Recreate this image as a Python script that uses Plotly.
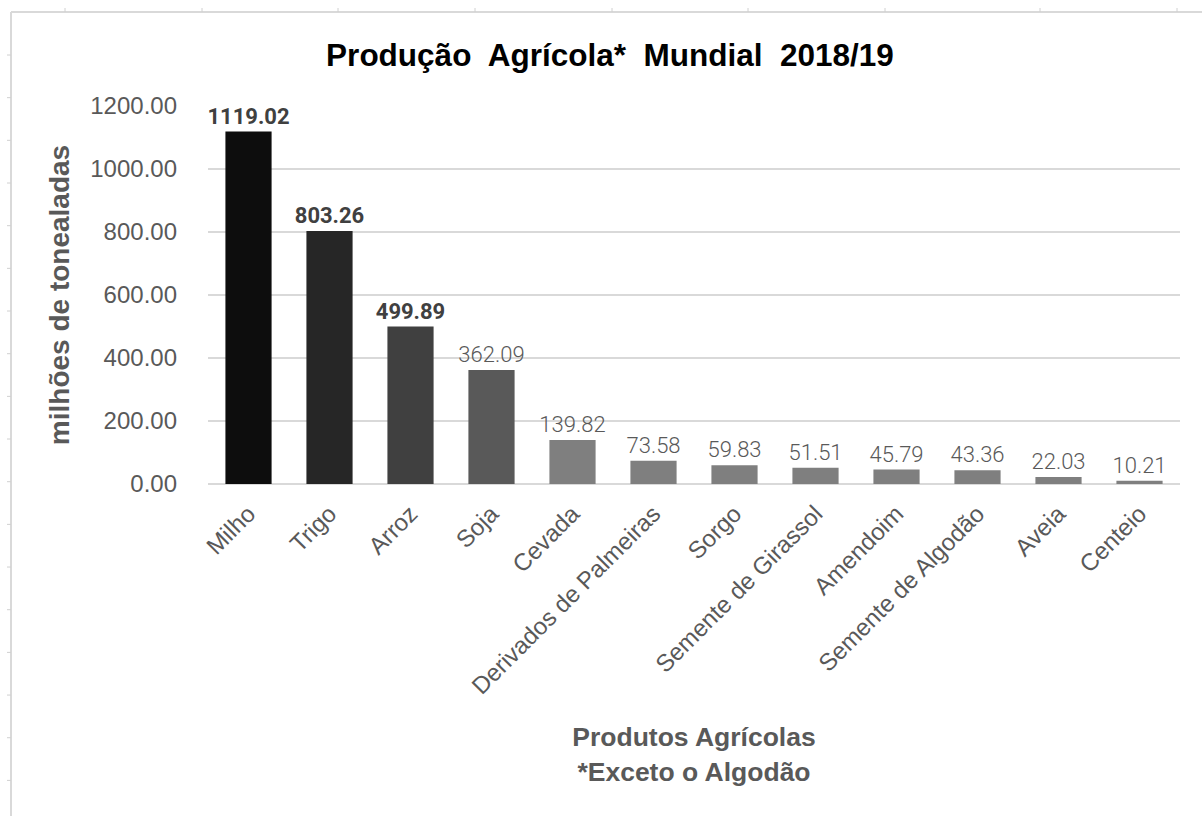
import plotly.graph_objects as go

# Produção agrícola mundial 2018/19 (milhões de toneladas)
produtos = ["Milho", "Trigo", "Arroz", "Soja", "Cevada", "Derivados de Palmeiras",
            "Sorgo", "Semente de Girassol", "Amendoim", "Semente de Algodão",
            "Aveia", "Centeio"]
producao = [1119.02, 803.26, 499.89, 362.09, 139.82, 73.58, 59.83, 51.51,
            45.79, 43.36, 22.03, 10.21]
cores = ["#0d0d0d", "#262626", "#404040", "#595959"] + ["#7f7f7f"] * 8
destaque = [True, True, True] + [False] * 9

y_ticks = [0, 200, 400, 600, 800, 1000, 1200]

W, H = 1202, 816
ML, MR, MT, MB = 208, 22, 106, 332
PW, PH = W - ML - MR, H - MT - MB


def px(x):
    return (x - ML) / PW


def py(y):
    return (H - MB - y) / PH


fig = go.Figure(go.Bar(
    x=produtos,
    y=producao,
    marker=dict(color=cores, line=dict(width=0)),
    text=[f"{v:.2f}" for v in producao],
    textposition="outside",
    constraintext="none",
    cliponaxis=False,
    textfont=dict(
        family="Roboto",
        size=22,
        color=["#404040" if d else "#595959" for d in destaque],
        weight=[700 if d else 300 for d in destaque],
    ),
    hoverinfo="skip",
))

shapes = []
grey = "#d9d9d9"
# chart frame
shapes.append(dict(type="line", xref="paper", yref="paper",
                   x0=px(11), x1=px(11), y0=py(12), y1=py(H + 5),
                   line=dict(color=grey, width=2)))
shapes.append(dict(type="line", xref="paper", yref="paper",
                   x0=px(11), x1=px(W + 5), y0=py(12), y1=py(12),
                   line=dict(color=grey, width=2)))
# sheet grid stubs around the frame
for k in range(18):
    yy = 55 + 42.67 * k
    shapes.append(dict(type="line", xref="paper", yref="paper",
                       x0=px(7), x1=px(11), y0=py(yy), y1=py(yy),
                       line=dict(color="#d0d0d0", width=1)))
for xx in [65, 202, 338, 475, 612, 748, 885, 1040, 1177]:
    shapes.append(dict(type="line", xref="paper", yref="paper",
                       x0=px(xx), x1=px(xx), y0=py(8), y1=py(12),
                       line=dict(color="#d0d0d0", width=1)))

fig.update_layout(
    width=W, height=H,
    margin=dict(l=ML, r=MR, t=MT, b=MB, pad=0),
    paper_bgcolor="white",
    plot_bgcolor="white",
    bargap=0.43,
    showlegend=False,
    shapes=shapes,
    title=dict(
        text="Produção  Agrícola*  Mundial  2018/19",
        xref="container", x=610 / W, xanchor="center",
        y=1 - 55 / H, yanchor="middle",
        font=dict(family="Liberation Sans", size=31.5, color="#000000", weight="bold"),
    ),
    xaxis=dict(
        tickangle=-45,
        tickfont=dict(family="Liberation Sans", size=24, color="#595959"),
        showgrid=False,
        showline=False,
        ticks="",
        ticklabelstandoff=10,
        title=dict(
            text="Produtos Agrícolas<br>*Exceto o Algodão",
            font=dict(family="Liberation Sans", size=26.5, color="#595959", weight="bold"),
            standoff=29,
        ),
    ),
    yaxis=dict(
        range=[0, 1200],
        tickvals=y_ticks,
        ticktext=[f"{v:.2f}" for v in y_ticks],
        tickfont=dict(family="Liberation Sans", size=24, color="#595959"),
        showgrid=True,
        gridcolor=grey,
        gridwidth=1.5,
        zeroline=True,
        zerolinecolor=grey,
        zerolinewidth=1.5,
        showline=False,
        ticks="",
        ticklabelstandoff=30,
        title=dict(
            text="milhões de tonealadas",
            font=dict(family="Liberation Sans", size=28, color="#595959", weight="bold"),
            standoff=12,
        ),
    ),
)

fig.write_html("out.html")
